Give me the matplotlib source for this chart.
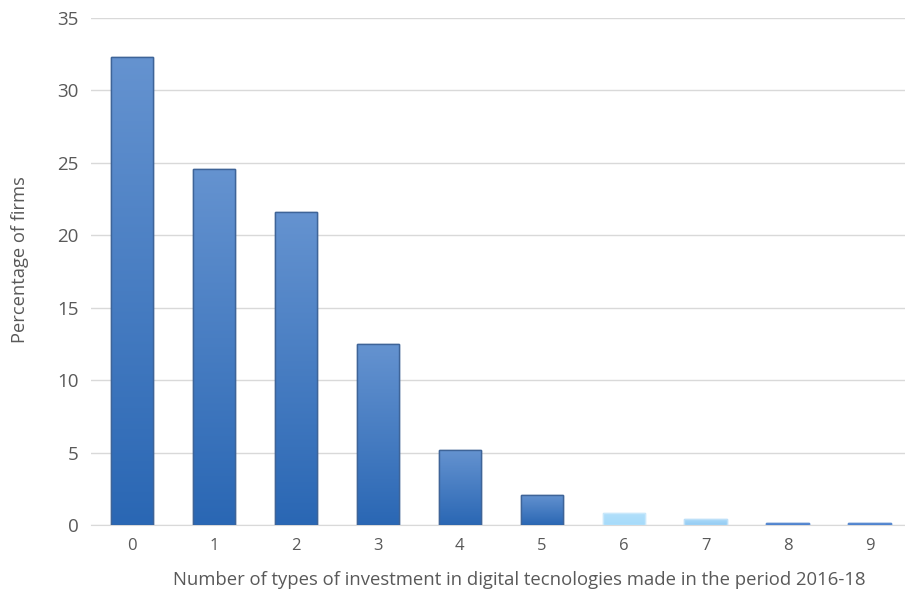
import matplotlib
matplotlib.use("Agg")
import matplotlib.pyplot as plt
import numpy as np
from matplotlib.colors import LinearSegmentedColormap

categories = ["0", "1", "2", "3", "4", "5", "6", "7", "8", "9"]
values = [32.3, 24.6, 21.6, 12.5, 5.2, 2.1, 0.85, 0.38, 0.12, 0.12]
top_colors = ["#6593d0", "#6593d0", "#6593d0", "#6593d0", "#6593d0", "#6593d0",
              "#b3e0fb", "#a9d8f8", "#6593d0", "#6593d0"]
bottom_colors = ["#2a67b4", "#2a67b4", "#2a67b4", "#2a67b4", "#2a67b4", "#2a67b4",
                 "#a6dbfa", "#94ccf4", "#3f7ad0", "#3f7ad0"]
edge_colors = ["#3e6498"] * 6 + ["#c9e8fb", "#bde0f8", "#5a8ad0", "#5a8ad0"]
yticks = [0, 5, 10, 15, 20, 25, 30, 35]

plt.rcParams['font.family'] = ['Open Sans', 'DejaVu Sans']
text_color = "#595959"

fig = plt.figure(figsize=(9.05, 6.0), dpi=100)
ax = fig.add_axes([91/905, 0.125, 1 - 91/905, 0.845])

x = np.arange(len(categories))
width = 0.52
bars = ax.bar(x, values, width=width, color=bottom_colors, edgecolor=edge_colors,
              linewidth=1.0, zorder=3)

for b, tc, bc in zip(bars, top_colors, bottom_colors):
    cmap = LinearSegmentedColormap.from_list("g", [bc, tc])
    grad = np.linspace(0, 1, 256).reshape(-1, 1)
    x0, y0 = b.get_x(), b.get_y()
    w, h = b.get_width(), b.get_height()
    im = ax.imshow(grad, cmap=cmap, aspect="auto", origin="lower",
                   extent=[x0, x0 + w, y0, y0 + h], zorder=3.5)
    im.set_clip_path(b)
    ax.bar(b.get_x() + w / 2, h, width=w, fill=False,
           edgecolor=b.get_edgecolor(), linewidth=1.0, zorder=4)

ax.set_xlim(-0.5, 9.43)
ax.set_ylim(0, 35)
ax.set_yticks(yticks)
ax.set_xticks(x)
ax.set_xticklabels(categories)
ax.yaxis.grid(True, color="#d9d9d9", linewidth=1.0, zorder=0)
ax.set_axisbelow(True)
for s in ["top", "right", "left"]:
    ax.spines[s].set_visible(False)
ax.spines["bottom"].set_color("#d9d9d9")
ax.tick_params(axis="both", length=0, colors=text_color, labelsize=12)
ax.tick_params(axis="y", pad=9, labelsize=13.5)
ax.tick_params(axis="x", pad=9)

fig.text(0.5735, 0.018, "Number of types of investment in digital tecnologies made in the period 2016-18",
         ha="center", va="bottom", fontsize=13.3, color=text_color)
fig.text(0.022, 0.567, "Percentage of firms", rotation=90, ha="center", va="center",
         fontsize=13.2, color=text_color)

fig.savefig("out.png", dpi=100)
